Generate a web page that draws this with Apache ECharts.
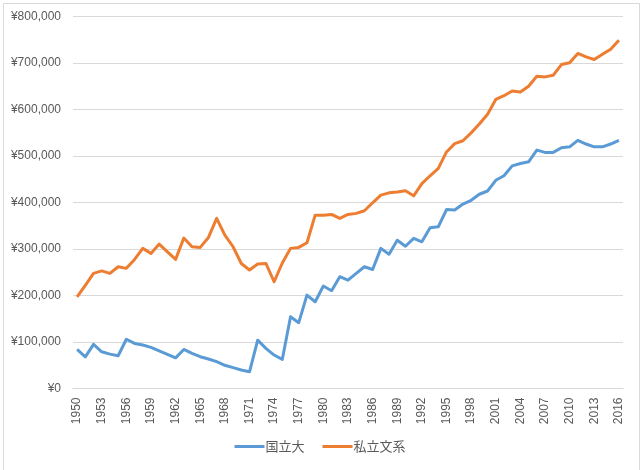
<!DOCTYPE html>
<html><head><meta charset="utf-8">
<script src="https://cdn.jsdelivr.net/npm/echarts@6/dist/echarts.min.js"></script>
<style>html,body{margin:0;padding:0;background:#fff}#c{width:640px;height:470px}</style>
</head><body><div id="c"></div>
<script>
const years = [];
for (let y = 1950; y <= 2016; y++) years.push(String(y));

const seriesNames = ['国立大', '私立文系'];

const national = [
  84000, 68000, 95000, 79000, 74000, 70500, 106000, 97000, 93500, 88500,
  81000, 73500, 66000, 84000, 75700, 68400, 63400, 57700, 50000, 44800,
  39800, 36000, 104000, 86400, 72000, 62800, 154500, 141600, 201000, 186700,
  220400, 210400, 240500, 233000, 247700, 262000, 256000, 301500, 289000, 319000,
  306000, 323000, 315700, 345800, 348000, 385000, 384000, 396800, 405000, 418000,
  425000, 448000, 457700, 479000, 484000, 487800, 513000, 508000, 508000, 518000,
  520000, 534000, 526000, 520000, 520000, 526000, 534000
];

const privateArts = [
  197000, 222000, 247700, 253000, 247700, 262000, 258500, 277800, 301500, 290700,
  310800, 294000, 277800, 323700, 305000, 303600, 325000, 366000, 330000, 305000,
  269000, 255000, 268000, 269000, 229700, 270000, 301500, 303600, 313600, 373000,
  373000, 374600, 366000, 374600, 376800, 382400, 399600, 416000, 421000, 423000,
  425400, 414600, 441000, 457700, 473500, 509000, 527000, 533000, 550000, 569000,
  590000, 622000, 630000, 640000, 638000, 650500, 672000, 670500, 674000, 697000,
  701000, 721000, 713500, 708000, 719000, 730000, 749500
];

const yTicks = [0, 100000, 200000, 300000, 400000, 500000, 600000, 700000, 800000];

const chart = echarts.init(document.getElementById('c'), null, {renderer: 'canvas'});
const txt = '#595959';
chart.setOption({
  animation: false,
  backgroundColor: '#fff',
  color: ['#5B9BD5', '#ED7D31'],
  graphic: [{
    type: 'rect', left: 1, top: 1, z: -1,
    shape: {width: 636, height: 467},
    style: {fill: 'none', stroke: '#d9d9d9', lineWidth: 1}
  }],
  grid: {left: 73, right: 17, top: 16.7, bottom: 81.5, containLabel: false},
  legend: {
    data: seriesNames,
    bottom: 12,
    left: 'center',
    itemWidth: 30, itemHeight: 3, itemGap: 18,
    icon: 'rect',
    textStyle: {color: txt, fontSize: 13, fontFamily: 'Noto Sans CJK JP', padding: [0,0,0,-4]}
  },
  xAxis: {
    type: 'category',
    data: years,
    boundaryGap: true,
    axisLine: {lineStyle: {color: '#d9d9d9'}},
    axisTick: {show: false},
    axisLabel: {
      interval: 2, rotate: 90, color: txt, fontSize: 12, margin: 9,
      fontFamily: 'Liberation Sans'
    }
  },
  yAxis: {
    type: 'value',
    min: yTicks[0], max: yTicks[yTicks.length - 1], interval: 100000,
    axisLine: {show: false},
    axisTick: {show: false},
    splitLine: {lineStyle: {color: '#d9d9d9', width: 1}},
    axisLabel: {
      color: txt, fontSize: 12, margin: 12, fontFamily: 'Liberation Sans',
      formatter: v => '¥' + v.toLocaleString('en-US')
    }
  },
  series: [
    {name: seriesNames[0], type: 'line', data: national, showSymbol: false,
     lineStyle: {width: 3, color: '#5B9BD5', join: 'round'}, itemStyle: {color: '#5B9BD5'}},
    {name: seriesNames[1], type: 'line', data: privateArts, showSymbol: false,
     lineStyle: {width: 3, color: '#ED7D31', join: 'round'}, itemStyle: {color: '#ED7D31'}}
  ]
});
</script></body></html>
